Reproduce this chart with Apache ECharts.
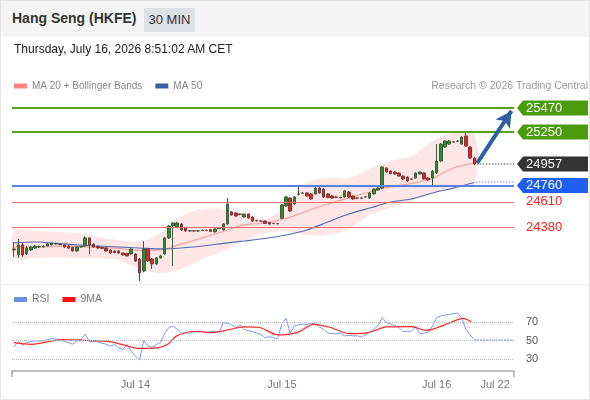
<!DOCTYPE html>
<html>
<head>
<meta charset="utf-8">
<script src="https://cdn.jsdelivr.net/npm/echarts@6/dist/echarts.min.js"></script>
<style>
  body { margin: 0; font-family: "Liberation Sans", Arial, sans-serif; }
  #wrap { position: relative; width: 590px; height: 400px; box-sizing: border-box; border: 1px solid #e6e6e6; overflow: hidden; background: #fff; }
  #head { position: absolute; left: 0; top: 0; width: 590px; height: 36px; background: #f5f5f5; z-index: 2; }
  #title { position: absolute; left: 11px; top: 9px; font-size: 14px; font-weight: bold; color: #333; }
  #badge { position: absolute; left: 143px; top: 7px; width: 51px; height: 24px; line-height: 24px; text-align: center; background: #dde0e5; color: #333; font-size: 13px; }
  #stamp { position: absolute; left: 13px; top: 41px; font-size: 12px; color: #222; z-index: 2; }
  #sep { position: absolute; left: 0; top: 283px; width: 590px; height: 1px; background: #ececec; z-index: 2; }
  #chart { position: absolute; left: 0; top: 0; width: 590px; height: 400px; }
</style>
</head>
<body>
<div id="wrap">
  <div id="chart"></div>
  <div id="head"><span id="title">Hang Seng (HKFE)</span><span id="badge">30 MIN</span></div>
  <div id="stamp">Thursday, July 16, 2026 8:51:02 AM CET</div>
  <div id="sep"></div>
</div>
<script>
// -----------------------------------------------------------------------------
// Data
// -----------------------------------------------------------------------------
const barCount = 120; // 111 bars drawn + empty room on the right
const dayTicks = ["Jul 14", "Jul 15", "Jul 16", "Jul 22"];
const dayTickIndex = [29, 64, 101, 115];

// [open, close, low, high], 30 min bars
const ohlc = [
  [24170, 24179, 24106, 24243], [24124, 24216, 24097, 24271], [24216, 24124, 24106, 24234],
  [24133, 24188, 24124, 24206], [24170, 24197, 24161, 24210], [24188, 24206, 24180, 24216],
  [24197, 24200, 24188, 24210], [24197, 24202, 24190, 24212], [24206, 24225, 24200, 24232],
  [24216, 24230, 24210, 24238], [24225, 24228, 24218, 24235], [24225, 24220, 24212, 24232],
  [24216, 24197, 24190, 24225], [24206, 24188, 24180, 24212], [24193, 24161, 24155, 24200],
  [24161, 24197, 24152, 24202], [24197, 24202, 24190, 24210], [24206, 24280, 24200, 24298],
  [24280, 24216, 24133, 24285], [24225, 24197, 24190, 24230], [24202, 24188, 24180, 24208],
  [24193, 24184, 24178, 24200], [24188, 24161, 24155, 24193], [24170, 24142, 24135, 24175],
  [24161, 24147, 24140, 24166], [24161, 24142, 24135, 24166], [24142, 24124, 24118, 24147],
  [24138, 24115, 24110, 24142], [24133, 24179, 24128, 24184], [24133, 24069, 24060, 24140],
  [24087, 23959, 23886, 24095], [23977, 24179, 23965, 24252], [24179, 24069, 24060, 24185],
  [24087, 24042, 23996, 24095], [24042, 24097, 24035, 24105], [24097, 24115, 24090, 24125],
  [24133, 24280, 24125, 24290], [24280, 24390, 24270, 24400], [24390, 24417, 24023, 24425],
  [24380, 24417, 24370, 24425], [24408, 24353, 24345, 24415], [24371, 24344, 24338, 24378],
  [24344, 24346, 24338, 24352], [24346, 24344, 24338, 24352], [24344, 24346, 24338, 24352],
  [24348, 24350, 24342, 24356], [24350, 24348, 24342, 24356], [24357, 24339, 24333, 24362],
  [24335, 24362, 24330, 24368], [24365, 24368, 24360, 24374], [24353, 24408, 24348, 24414],
  [24408, 24591, 24400, 24646], [24518, 24490, 24485, 24525], [24509, 24481, 24475, 24515],
  [24499, 24495, 24488, 24505], [24472, 24499, 24466, 24505], [24499, 24463, 24458, 24505],
  [24472, 24435, 24430, 24478], [24440, 24437, 24430, 24446], [24435, 24433, 24427, 24441],
  [24435, 24413, 24408, 24440], [24422, 24408, 24402, 24428], [24413, 24411, 24405, 24418],
  [24411, 24410, 24404, 24416], [24460, 24582, 24455, 24590], [24573, 24655, 24565, 24665],
  [24646, 24527, 24518, 24655], [24591, 24655, 24585, 24665], [24680, 24683, 24670, 24756],
  [24690, 24692, 24684, 24700], [24692, 24664, 24658, 24700], [24683, 24637, 24630, 24690],
  [24683, 24737, 24678, 24745], [24737, 24692, 24685, 24745], [24728, 24655, 24648, 24735],
  [24683, 24651, 24645, 24690], [24664, 24646, 24640, 24670], [24655, 24653, 24646, 24662],
  [24651, 24648, 24642, 24658], [24655, 24710, 24650, 24718], [24701, 24655, 24648, 24708],
  [24664, 24637, 24630, 24670], [24646, 24644, 24636, 24652], [24646, 24644, 24636, 24652],
  [24655, 24657, 24648, 24664], [24646, 24692, 24640, 24698], [24683, 24728, 24677, 24735],
  [24719, 24737, 24712, 24744], [24737, 24930, 24730, 24939], [24921, 24884, 24878, 24928],
  [24893, 24870, 24864, 24900], [24884, 24866, 24860, 24890], [24875, 24847, 24840, 24880],
  [24847, 24820, 24814, 24852], [24838, 24802, 24796, 24844], [24820, 24818, 24810, 24826],
  [24829, 24875, 24823, 24882], [24866, 24884, 24860, 24890], [24875, 24820, 24814, 24880],
  [24829, 24811, 24805, 24835], [24829, 24893, 24756, 24900], [24875, 24985, 24868, 25140],
  [24985, 25140, 24978, 25148], [25113, 25168, 25105, 25176], [25140, 25168, 25132, 25176],
  [25160, 25159, 25150, 25168], [25166, 25168, 25160, 25175], [25140, 25204, 25134, 25212],
  [25214, 25122, 25116, 25259], [25113, 25012, 25005, 25120], [25012, 24957, 24950, 25020],
];

// indicator lines, sampled every 5 bars
const sampleIdx = [0, 5, 10, 15, 20, 25, 30, 35, 40, 45, 50, 55, 60, 65, 70, 75, 80, 85, 90, 95, 100, 105, 110];
const ma20 = [24197, 24197, 24202, 24202, 24193, 24184, 24165, 24170, 24225, 24280, 24339, 24399,
  24417, 24458, 24527, 24591, 24646, 24701, 24747, 24779, 24825, 24921, 24966];
const bbUpper = [24344, 24344, 24335, 24325, 24289, 24261, 24243, 24325, 24481, 24545, 24545, 24499,
  24454, 24573, 24783, 24829, 24829, 24911, 24985, 25030, 25168, 25241, 25241];
const bbLower = [24097, 24097, 24106, 24097, 24097, 24078, 23996, 23959, 23996, 24087, 24161, 24252,
  24325, 24344, 24307, 24307, 24362, 24490, 24554, 24618, 24692, 24747, 24774];
const ma50 = [24234, 24243, 24230, 24216, 24206, 24197, 24188, 24179, 24188, 24206, 24230, 24252,
  24275, 24307, 24353, 24426, 24499, 24554, 24609, 24637, 24692, 24737, 24788];

// key levels
const resistanceLevels = [25470, 25250];
const lastPrice = 24957;
const pivotLevel = 24760;
const supportLevels = [24610, 24380];
const ma50Last = 24795;
// forecast arrow: [bar position, price]
const arrowFrom = [110.7, 24966];
const arrowTo = [118.9, 25443];

// RSI per bar
const rsi = [43, 49, 45, 47.5, 49, 49.5, 49.5, 49.5, 51, 52, 51.5, 51, 49, 47.5, 46, 49.5, 51, 57,
  49, 49, 48.5, 47, 46, 44, 45.5, 42, 40, 45.8, 38.5, 33, 29, 50, 44, 42.5, 45.8, 47.5, 58, 64,
  65.6, 62, 58, 58, 58, 59.5, 59, 60, 58, 60, 59.5, 59, 69, 68.5, 67, 64, 66.8, 62, 60.5, 59.5,
  58, 56.7, 53, 54, 53, 52, 68, 74, 58, 65.6, 67, 67.5, 67.5, 68, 69, 64.6, 62, 58, 57.5, 57,
  58, 55, 55.5, 55, 55, 54, 56, 59.5, 62, 66, 74.7, 69, 68, 66, 64, 59.5, 60, 60, 64.6, 57.4,
  58, 59, 65.6, 74.7, 76.5, 77.5, 78, 79, 79.7, 74, 62, 56, 51];
const rsiMaIdx = [0, 4, 8.5, 11.6, 17.4, 22.8, 26.4, 29.5, 34.4, 36.7, 38.9, 43.4, 47, 50.6, 55,
  58.6, 63.1, 67.6, 71.6, 75.7, 80.1, 84.6, 89.1, 94.9, 98.5, 104.3, 107.2, 109.3];
const rsiMa = [47.6, 45.8, 49, 51, 50, 48.7, 45, 41.5, 42, 45.8, 55, 60, 58.5, 61, 64.6, 64, 56,
  58.5, 67.5, 64, 57.4, 58.5, 64.6, 65, 61, 69.3, 74, 70.4];
const rsiLevels = [30, 50, 70];
const rsiLast = 51;

// -----------------------------------------------------------------------------
// Chart
// -----------------------------------------------------------------------------
const chart = echarts.init(document.getElementById("chart"), null, { renderer: "canvas" });

const categories = Array.from({ length: barCount }, (_, i) => {
  const k = dayTickIndex.indexOf(i);
  return k >= 0 ? dayTicks[k] : "";
});
const pair = (xs, ys) => xs.map((x, k) => [x, ys[k]]);

const priceMin = 23860;
const priceMax = 25560;
const font = "Liberation Sans, Arial, sans-serif";

const tags = [
  { value: resistanceLevels[0], fill: "#4b9c0c", text: "#fff" },
  { value: resistanceLevels[1], fill: "#4b9c0c", text: "#fff" },
  { value: lastPrice, fill: "#333333", text: "#fff" },
  { value: pivotLevel, fill: "#1f60f2", text: "#fff" },
  { value: supportLevels[0], fill: null, text: "#ff2020" },
  { value: supportLevels[1], fill: null, text: "#ff2020" },
];

const option = {
  animation: false,
  textStyle: { fontFamily: font },
  title: {
    text: "Research \u00a9 2026 Trading Central",
    right: 3,
    top: 80,
    padding: 0,
    textStyle: { fontSize: 10.5, fontWeight: "normal", color: "#9a9a9a" },
  },
  legend: [
    {
      left: 13, top: 80, padding: 0, itemWidth: 13, itemHeight: 5, itemGap: 13, icon: "rect",
      textStyle: { fontSize: 10, color: "#888" },
      data: [
        { name: "MA 20 + Bollinger Bands", itemStyle: { color: "#ff8585" } },
        { name: "MA 50", itemStyle: { color: "#3b5fa6" } },
      ],
    },
    {
      left: 13, top: 293, padding: 0, itemWidth: 13, itemHeight: 5, itemGap: 13, icon: "rect",
      textStyle: { fontSize: 10.5, color: "#777" },
      data: [
        { name: "RSI", itemStyle: { color: "#6f8fe6" } },
        { name: "9MA", itemStyle: { color: "#ff1010" } },
      ],
    },
  ],
  grid: [
    { left: 11, width: 502, top: 97.2, height: 185.6 },
    { left: 11, width: 502, top: 296, height: 74 },
    { left: 513, width: 77, top: 97.2, height: 185.6 },
  ],
  xAxis: [
    { type: "category", gridIndex: 0, data: categories, boundaryGap: true, show: false },
    { type: "value", gridIndex: 0, min: -0.5, max: barCount - 0.5, show: false },
    {
      type: "category", gridIndex: 1, data: categories, boundaryGap: true, position: "bottom",
      axisLine: { show: false }, axisTick: { show: false },
      axisLabel: {
        interval: (i, v) => v !== "", color: "#777", fontSize: 11, margin: 8,
        hideOverlap: false,
      },
    },
    {
      type: "value", gridIndex: 1, min: 0, max: barCount, interval: barCount, position: "bottom",
      axisLine: { show: true, onZero: false, lineStyle: { color: "#aaa", width: 1.5 } },
      axisTick: { show: true, length: 6, lineStyle: { color: "#aaa", width: 1.5 } },
      axisLabel: { show: false }, splitLine: { show: false },
    },
    { type: "value", gridIndex: 1, min: -0.5, max: barCount - 0.5, show: false },
    { type: "value", gridIndex: 2, min: 0, max: 1, show: false },
  ],
  yAxis: [
    { type: "value", gridIndex: 0, min: priceMin, max: priceMax, show: false },
    { type: "value", gridIndex: 1, min: 17, max: 97, show: false },
    { type: "value", gridIndex: 2, min: priceMin, max: priceMax, show: false },
  ],
  series: [
    // Bollinger band area
    {
      type: "custom",
      xAxisIndex: 1,
      yAxisIndex: 0,
      data: [[0, bbUpper[0]]],
      silent: true,
      z: 1,
      renderItem: (params, api) => {
        const top = pair(sampleIdx, bbUpper).map((p) => api.coord(p));
        const bottom = pair(sampleIdx, bbLower).map((p) => api.coord(p)).reverse();
        return {
          type: "polygon",
          shape: { points: top.concat(bottom), smooth: 0.35 },
          style: { fill: "rgba(250, 140, 140, 0.22)" },
        };
      },
    },
    {
      name: "MA 20 + Bollinger Bands",
      type: "line",
      xAxisIndex: 1,
      yAxisIndex: 0,
      data: pair(sampleIdx, ma20),
      smooth: 0.3,
      showSymbol: false,
      z: 2,
      lineStyle: { color: "#f7a0a0", width: 1.2 },
      itemStyle: { color: "#ff8585" },
    },
    {
      name: "MA 50",
      type: "line",
      xAxisIndex: 1,
      yAxisIndex: 0,
      data: pair(sampleIdx, ma50),
      smooth: 0.3,
      showSymbol: false,
      z: 2,
      lineStyle: { color: "#4d6fb3", width: 1.2 },
      itemStyle: { color: "#3b5fa6" },
    },
    // levels + forecast arrow
    {
      type: "line",
      xAxisIndex: 1,
      yAxisIndex: 0,
      data: [[arrowFrom[0], lastPrice]],
      showSymbol: false,
      silent: true,
      z: 3,
      markLine: {
        silent: true,
        symbol: ["none", "none"],
        label: { show: false },
        data: [
          { yAxis: resistanceLevels[0], lineStyle: { color: "#55a218", width: 2, type: "solid" } },
          { yAxis: resistanceLevels[1], lineStyle: { color: "#55a218", width: 2, type: "solid" } },
          { yAxis: pivotLevel, lineStyle: { color: "#5b80e4", width: 2, type: "solid" } },
          { yAxis: supportLevels[0], lineStyle: { color: "#f07070", width: 1, type: "solid" } },
          { yAxis: supportLevels[1], lineStyle: { color: "#f07070", width: 1, type: "solid" } },
          [
            { coord: [110.6, lastPrice], lineStyle: { color: "#888", width: 1.5, type: "dotted" } },
            { coord: [barCount - 0.5, lastPrice] },
          ],
          [
            { coord: [110.4, ma50Last], lineStyle: { color: "#9fb2da", width: 1.5, type: "dotted" } },
            { coord: [barCount - 0.5, ma50Last] },
          ],
          [
            { coord: arrowFrom, lineStyle: { color: "#2f5fa2", width: 4, type: "solid" } },
            { coord: arrowTo, symbol: "arrow", symbolSize: [13, 16] },
          ],
        ],
      },
    },
    {
      type: "candlestick",
      xAxisIndex: 0,
      yAxisIndex: 0,
      data: ohlc,
      barWidth: 3,
      z: 4,
      itemStyle: {
        color: "#2f8a2f",
        color0: "#de2424",
        borderColor: "#3d5f3d",
        borderColor0: "#7a3a3a",
        borderWidth: 1,
      },
    },
    // price tags on the right
    {
      type: "custom",
      xAxisIndex: 5,
      yAxisIndex: 2,
      data: tags.map((t) => [0, t.value]),
      silent: true,
      z: 5,
      renderItem: (params, api) => {
        const tag = tags[params.dataIndex];
        const pt = api.coord([0, api.value(1)]);
        const x = params.coordSys.x;
        const y = pt[1];
        const children = [];
        if (tag.fill) {
          children.push({
            type: "polygon",
            shape: { points: [[x + 3, y], [x + 9, y - 7.5], [x + 74, y - 7.5], [x + 74, y + 7.5], [x + 9, y + 7.5]] },
            style: { fill: tag.fill },
          });
        }
        children.push({
          type: "text",
          style: {
            x: x + 12, y: y, text: String(tag.value), fill: tag.text,
            font: "13px " + font, verticalAlign: "middle", align: "left",
          },
        });
        return { type: "group", children };
      },
    },
    // RSI panel
    {
      name: "RSI",
      type: "line",
      xAxisIndex: 2,
      yAxisIndex: 1,
      data: rsi,
      showSymbol: false,
      lineStyle: { color: "#7d9be8", width: 1 },
      itemStyle: { color: "#6f8fe6" },
      z: 3,
      markLine: {
        silent: true,
        symbol: ["none", "none"],
        lineStyle: { color: "#bdbdbd", type: "dotted", width: 1 },
        label: { show: true, position: "end", distance: 12, color: "#555", fontSize: 11 },
        data: rsiLevels.map((v) => ({ yAxis: v })),
      },
    },
    {
      name: "9MA",
      type: "line",
      xAxisIndex: 4,
      yAxisIndex: 1,
      data: pair(rsiMaIdx, rsiMa),
      smooth: 0.3,
      showSymbol: false,
      lineStyle: { color: "#ff2a2a", width: 1.2 },
      itemStyle: { color: "#ff1010" },
      z: 4,
      markLine: {
        silent: true,
        symbol: ["none", "none"],
        label: { show: false },
        data: [
          [
            { coord: [110, rsiLast], lineStyle: { color: "#8ea6ea", width: 1.5, type: "dotted" } },
            { coord: [barCount - 0.5, rsiLast] },
          ],
        ],
      },
    },
  ],
};

chart.setOption(option);
</script>
</body>
</html>
